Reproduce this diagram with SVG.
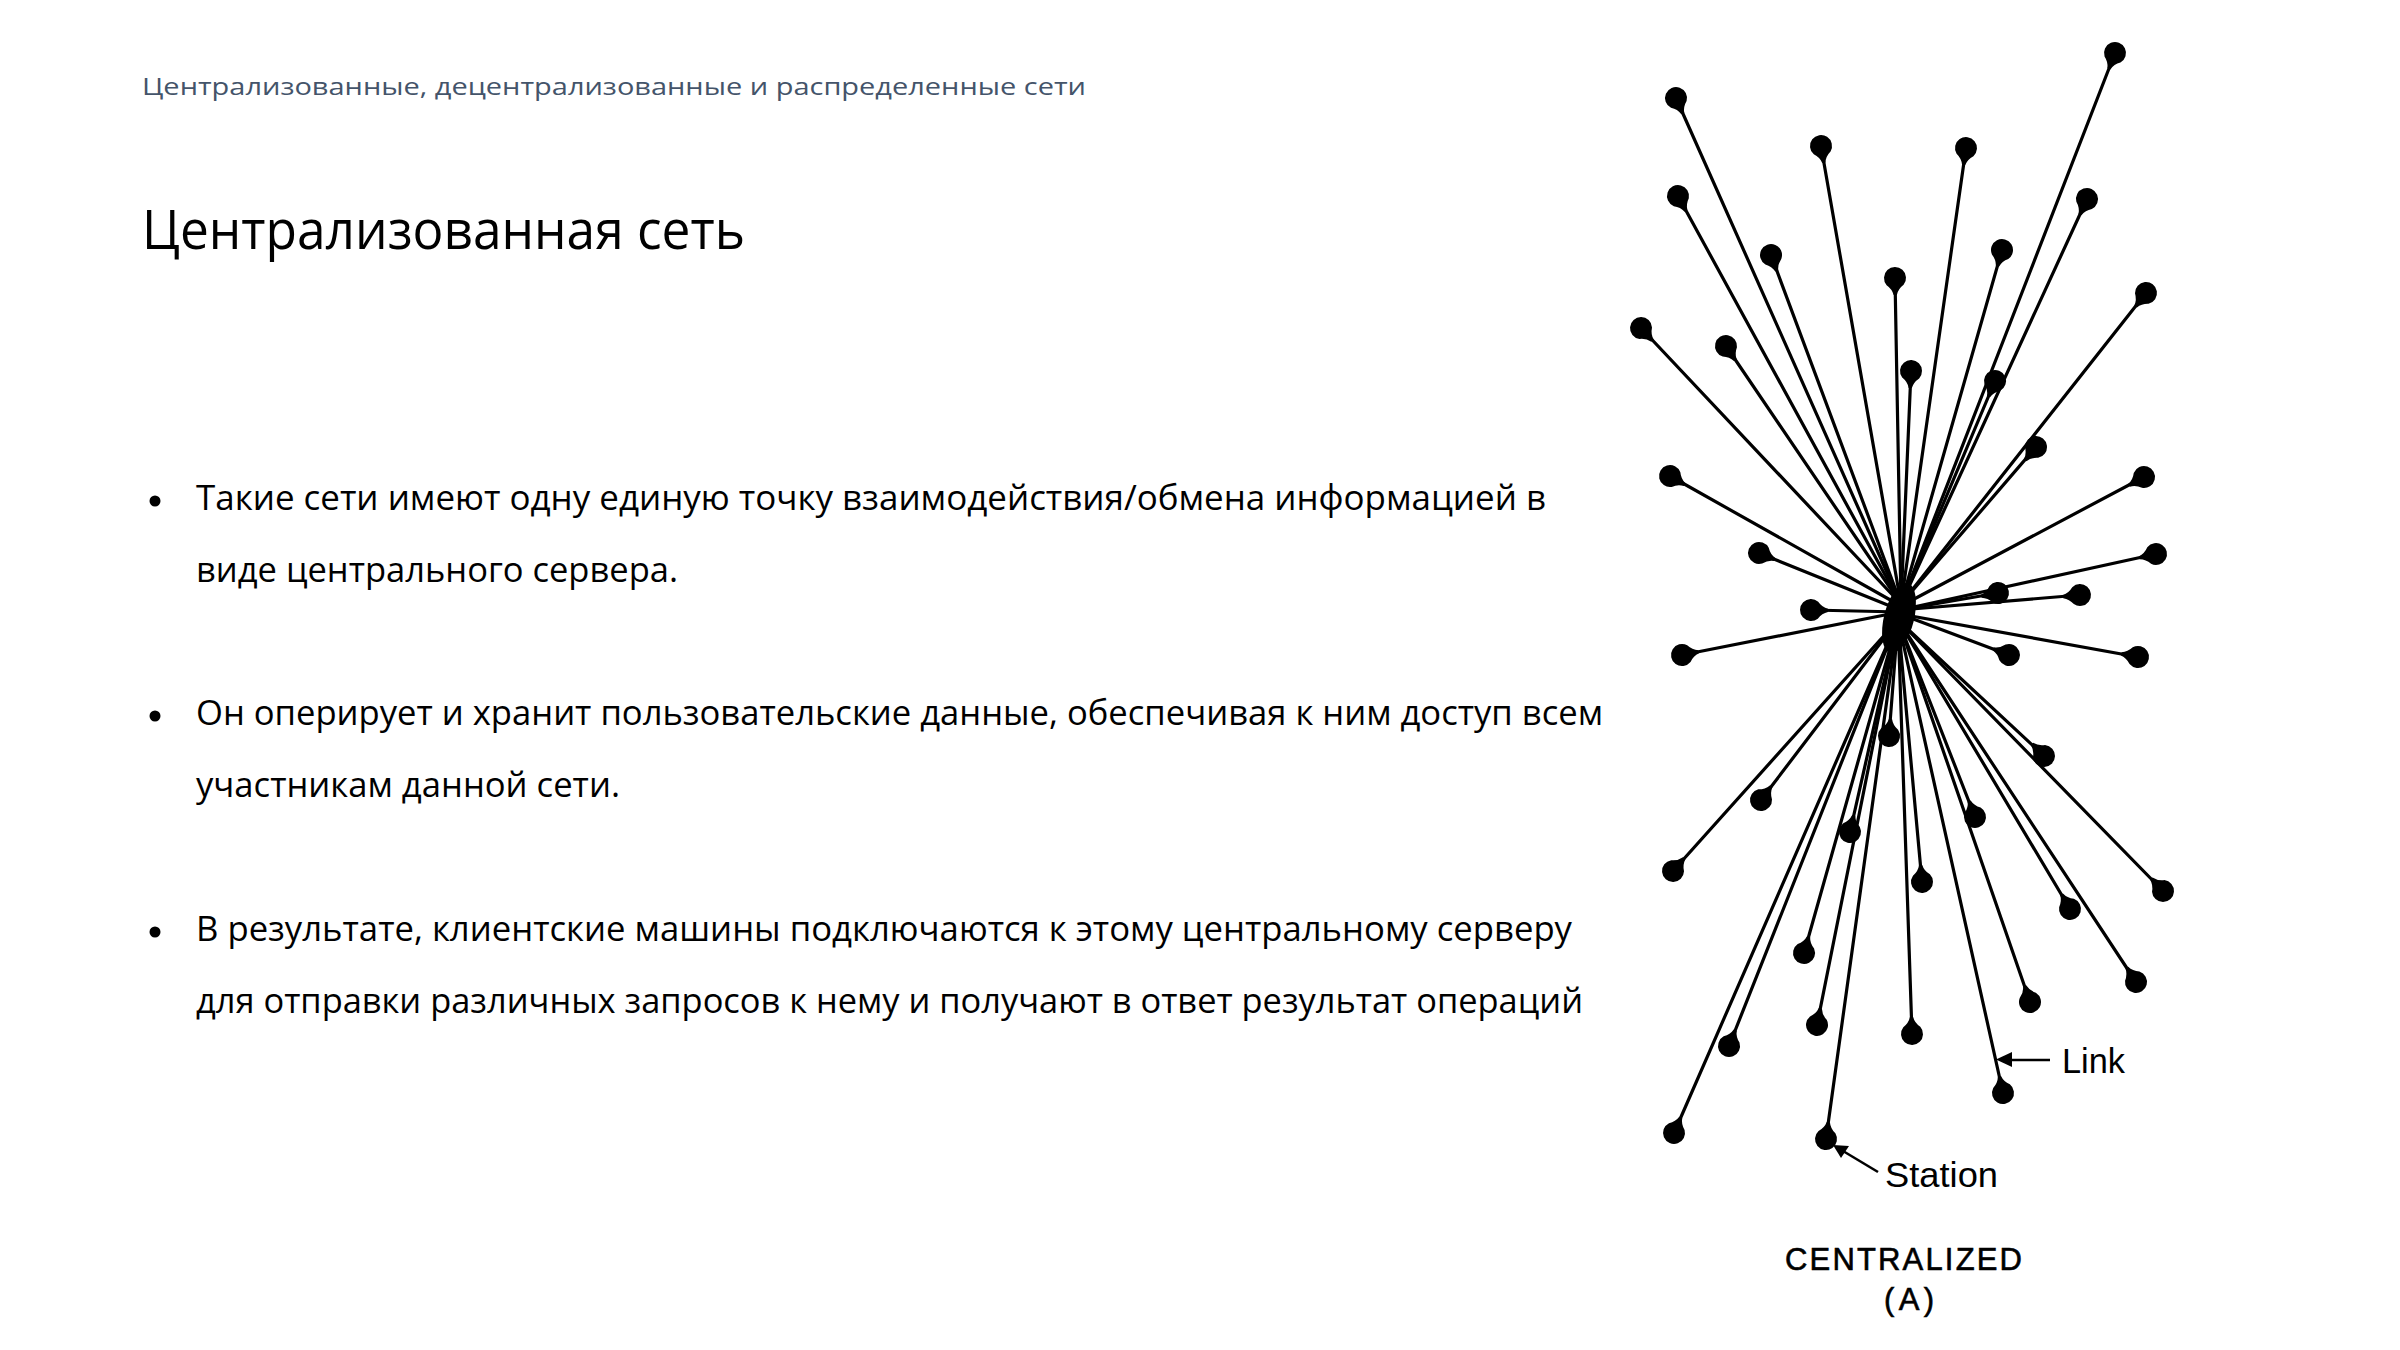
<svg xmlns="http://www.w3.org/2000/svg" xmlns:xlink="http://www.w3.org/1999/xlink" width="2400" height="1350" viewBox="0 0 2400 1350">
<defs>
<style>
.hdr{font-family:"Open Sans","Noto Sans","DejaVu Sans",sans-serif;font-size:24px;fill:#44546A}
.ttl{font-family:"Open Sans","Noto Sans","DejaVu Sans",sans-serif;font-size:54px;fill:#000}
.body{font-family:"Open Sans","Noto Sans","DejaVu Sans",sans-serif;font-size:34.5px;fill:#000}
.lbl{font-family:"Liberation Sans","DejaVu Sans",sans-serif;font-size:35px;fill:#000}
.cap{font-family:"Liberation Sans","DejaVu Sans",sans-serif;font-size:31px;fill:#000;stroke:#000;stroke-width:0.6}
.link{stroke:#000;stroke-width:3.2;stroke-linecap:round;fill:none}
.pin{fill:#000}
</style>
<path id="pin" d="M7,-8.5 Q11,-3 17,-1.6 L17,1.6 Q11,3 7,8.5 A11 11 0 1 1 7,-8.5 Z"/>
</defs>
<rect width="2400" height="1350" fill="#fff"/>

<g id="header">
<text class="hdr" x="142" y="95" textLength="944" lengthAdjust="spacingAndGlyphs">Централизованные, децентрализованные и распределенные сети</text>
</g>
<g id="title">
<text class="ttl" x="142" y="249" textLength="603" lengthAdjust="spacingAndGlyphs">Централизованная сеть</text>
</g>
<g id="bullets">
<circle cx="155" cy="501" r="5.5" fill="#000"/>
<circle cx="155" cy="716" r="5.5" fill="#000"/>
<circle cx="155" cy="932" r="5.5" fill="#000"/>
<text class="body" x="196" y="510" textLength="1350" lengthAdjust="spacingAndGlyphs">Такие сети имеют одну единую точку взаимодействия/обмена информацией в</text>
<text class="body" x="196" y="582" textLength="482" lengthAdjust="spacingAndGlyphs">виде центрального сервера.</text>
<text class="body" x="196" y="725" textLength="1407" lengthAdjust="spacingAndGlyphs">Он оперирует и хранит пользовательские данные, обеспечивая к ним доступ всем</text>
<text class="body" x="196" y="797" textLength="424" lengthAdjust="spacingAndGlyphs">участникам данной сети.</text>
<text class="body" x="196" y="941" textLength="1376" lengthAdjust="spacingAndGlyphs">В результате, клиентские машины подключаются к этому центральному серверу</text>
<text class="body" x="196" y="1013" textLength="1387" lengthAdjust="spacingAndGlyphs">для отправки различных запросов к нему и получают в ответ результат операций</text>
</g>

<g id="connectors">
<line class="link" x1="2115" y1="53" x2="1901" y2="604"/>
<line class="link" x1="1676" y1="98" x2="1901" y2="604"/>
<line class="link" x1="1821" y1="146" x2="1901" y2="604"/>
<line class="link" x1="1966" y1="148" x2="1901" y2="604"/>
<line class="link" x1="1678" y1="196" x2="1901" y2="604"/>
<line class="link" x1="2087" y1="199" x2="1901" y2="604"/>
<line class="link" x1="1771" y1="255" x2="1901" y2="604"/>
<line class="link" x1="2002" y1="250" x2="1901" y2="604"/>
<line class="link" x1="1895" y1="278" x2="1901" y2="604"/>
<line class="link" x1="2146" y1="293" x2="1901" y2="604"/>
<line class="link" x1="1641" y1="328" x2="1901" y2="604"/>
<line class="link" x1="1726" y1="346" x2="1901" y2="604"/>
<line class="link" x1="1911" y1="371" x2="1901" y2="604"/>
<line class="link" x1="1995" y1="381" x2="1901" y2="604"/>
<line class="link" x1="2036" y1="447" x2="1901" y2="604"/>
<line class="link" x1="1670" y1="476" x2="1901" y2="606"/>
<line class="link" x1="2144" y1="477" x2="1901" y2="606"/>
<line class="link" x1="1759" y1="553" x2="1900" y2="610"/>
<line class="link" x1="2156" y1="554" x2="1900" y2="610"/>
<line class="link" x1="1998" y1="593" x2="1900" y2="610"/>
<line class="link" x1="2080" y1="595" x2="1900" y2="610"/>
<line class="link" x1="1811" y1="610" x2="1900" y2="612"/>
<line class="link" x1="1682" y1="655" x2="1900" y2="612"/>
<line class="link" x1="2009" y1="655" x2="1900" y2="614"/>
<line class="link" x1="2138" y1="657" x2="1900" y2="614"/>
<line class="link" x1="1889" y1="736" x2="1898" y2="620"/>
<line class="link" x1="2044" y1="756" x2="1898" y2="620"/>
<line class="link" x1="1761" y1="800" x2="1898" y2="620"/>
<line class="link" x1="1975" y1="817" x2="1898" y2="620"/>
<line class="link" x1="1850" y1="832" x2="1898" y2="620"/>
<line class="link" x1="1673" y1="871" x2="1898" y2="620"/>
<line class="link" x1="1922" y1="882" x2="1898" y2="620"/>
<line class="link" x1="2163" y1="891" x2="1898" y2="620"/>
<line class="link" x1="2070" y1="909" x2="1898" y2="620"/>
<line class="link" x1="1804" y1="953" x2="1898" y2="620"/>
<line class="link" x1="2136" y1="982" x2="1898" y2="620"/>
<line class="link" x1="2030" y1="1002" x2="1898" y2="620"/>
<line class="link" x1="1817" y1="1025" x2="1898" y2="620"/>
<line class="link" x1="1912" y1="1034" x2="1898" y2="620"/>
<line class="link" x1="1729" y1="1046" x2="1898" y2="620"/>
<line class="link" x1="2003" y1="1093" x2="1898" y2="620"/>
<line class="link" x1="1674" y1="1133" x2="1898" y2="620"/>
<line class="link" x1="1826" y1="1139" x2="1898" y2="620"/>
</g>

<g id="hub">
<ellipse cx="1899" cy="618" rx="15" ry="36" transform="rotate(14 1899 618)" fill="#000"/>
</g>

<g id="stations" class="pin">
<g id="n1"><use href="#pin" transform="translate(2115,53) rotate(111.0)"/></g>
<g id="n2"><use href="#pin" transform="translate(1676,98) rotate(66.5)"/></g>
<g id="n3"><use href="#pin" transform="translate(1821,146) rotate(80.4)"/></g>
<g id="n4"><use href="#pin" transform="translate(1966,148) rotate(98.1)"/></g>
<g id="n5"><use href="#pin" transform="translate(1678,196) rotate(61.9)"/></g>
<g id="n6"><use href="#pin" transform="translate(2087,199) rotate(114.4)"/></g>
<g id="n7"><use href="#pin" transform="translate(1771,255) rotate(70.1)"/></g>
<g id="n8"><use href="#pin" transform="translate(2002,250) rotate(105.7)"/></g>
<g id="n9"><use href="#pin" transform="translate(1895,278) rotate(89.1)"/></g>
<g id="n10"><use href="#pin" transform="translate(2146,293) rotate(127.6)"/></g>
<g id="n11"><use href="#pin" transform="translate(1641,328) rotate(47.6)"/></g>
<g id="n12"><use href="#pin" transform="translate(1726,346) rotate(56.8)"/></g>
<g id="n13"><use href="#pin" transform="translate(1911,371) rotate(92.6)"/></g>
<g id="n14"><use href="#pin" transform="translate(1995,381) rotate(112.4)"/></g>
<g id="n15"><use href="#pin" transform="translate(2036,447) rotate(129.5)"/></g>
<g id="n16"><use href="#pin" transform="translate(1670,476) rotate(30.6)"/></g>
<g id="n17"><use href="#pin" transform="translate(2144,477) rotate(151.0)"/></g>
<g id="n18"><use href="#pin" transform="translate(1759,553) rotate(22.7)"/></g>
<g id="n19"><use href="#pin" transform="translate(2156,554) rotate(167.2)"/></g>
<g id="n20"><use href="#pin" transform="translate(1998,593) rotate(169.0)"/></g>
<g id="n21"><use href="#pin" transform="translate(2080,595) rotate(174.6)"/></g>
<g id="n22"><use href="#pin" transform="translate(1811,610) rotate(1.3)"/></g>
<g id="n23"><use href="#pin" transform="translate(1682,655) rotate(-11.2)"/></g>
<g id="n24"><use href="#pin" transform="translate(2009,655) rotate(-158.5)"/></g>
<g id="n25"><use href="#pin" transform="translate(2138,657) rotate(-169.3)"/></g>
<g id="n26"><use href="#pin" transform="translate(1889,736) rotate(-84.9)"/></g>
<g id="n27"><use href="#pin" transform="translate(2044,756) rotate(-135)"/></g>
<g id="n28"><use href="#pin" transform="translate(1761,800) rotate(-53.5)"/></g>
<g id="n29"><use href="#pin" transform="translate(1975,817) rotate(-110.1)"/></g>
<g id="n30"><use href="#pin" transform="translate(1850,832) rotate(-77.2)"/></g>
<g id="n31"><use href="#pin" transform="translate(1673,871) rotate(-48.8)"/></g>
<g id="n32"><use href="#pin" transform="translate(1922,882) rotate(-94.7)"/></g>
<g id="n33"><use href="#pin" transform="translate(2163,891) rotate(-133.3)"/></g>
<g id="n34"><use href="#pin" transform="translate(2070,909) rotate(-119.8)"/></g>
<g id="n35"><use href="#pin" transform="translate(1804,953) rotate(-74.3)"/></g>
<g id="n36"><use href="#pin" transform="translate(2136,982) rotate(-122.5)"/></g>
<g id="n37"><use href="#pin" transform="translate(2030,1002) rotate(-108.4)"/></g>
<g id="n38"><use href="#pin" transform="translate(1817,1025) rotate(-78.6)"/></g>
<g id="n39"><use href="#pin" transform="translate(1912,1034) rotate(-91.6)"/></g>
<g id="n40"><use href="#pin" transform="translate(1729,1046) rotate(-68.5)"/></g>
<g id="n41"><use href="#pin" transform="translate(2003,1093) rotate(-102.1)"/></g>
<g id="n42"><use href="#pin" transform="translate(1674,1133) rotate(-66.6)"/></g>
<g id="n43"><use href="#pin" transform="translate(1826,1139) rotate(-82.0)"/></g>
</g>

<g id="label-link">
<line x1="2050" y1="1060" x2="2008" y2="1060" stroke="#000" stroke-width="2.6"/>
<path d="M1996,1059.5 L2012,1052 L2012,1067 Z" fill="#000"/>
<text class="lbl" x="2062" y="1073" textLength="63" lengthAdjust="spacingAndGlyphs">Link</text>
</g>
<g id="label-station">
<line x1="1878" y1="1172" x2="1843" y2="1151" stroke="#000" stroke-width="2.6"/>
<path d="M1833,1145 L1849,1146 L1841,1158 Z" fill="#000"/>
<text class="lbl" x="1885" y="1187" textLength="113" lengthAdjust="spacingAndGlyphs">Station</text>
</g>
<g id="caption">
<text class="cap" x="1785" y="1270" textLength="237" lengthAdjust="spacing">CENTRALIZED</text>
<text class="cap" x="1884" y="1310" textLength="50" lengthAdjust="spacing">(A)</text>
</g>
</svg>
